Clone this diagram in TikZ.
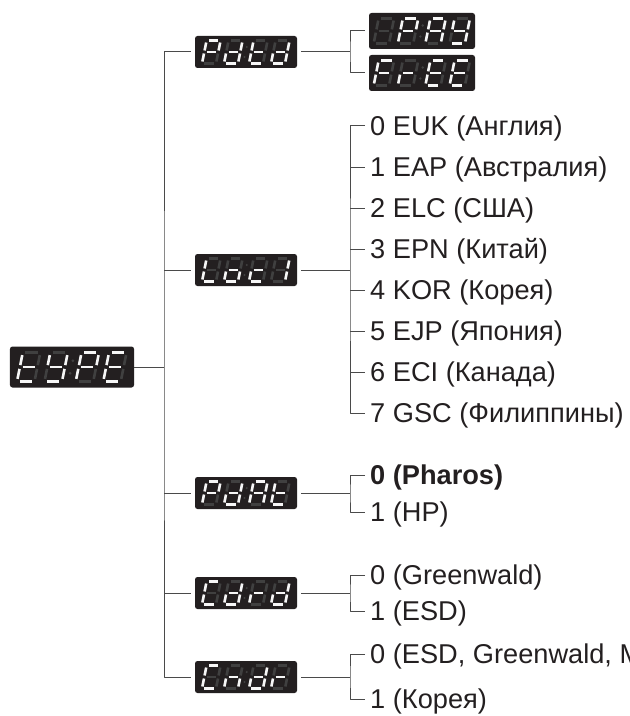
\documentclass[tikz,border=0pt]{standalone}
\usepackage{fontspec}
\setmainfont{Liberation Sans}

\definecolor{ink}{HTML}{231F20}
\definecolor{segdim}{HTML}{404040}
\definecolor{segon}{HTML}{F6F6F6}
\definecolor{wire}{HTML}{4A4A4A}

% lit segments of the display letters
\newcommand\sgt{d,e,f,g}
\newcommand\sgY{b,c,d,f,g}
\newcommand\sgP{a,b,e,f,g}
\newcommand\sgE{a,d,e,f,g}
\newcommand\sgd{b,c,d,e,g}
\newcommand\sgA{a,b,c,e,f,g}
\newcommand\sgF{a,e,f,g}
\newcommand\sgr{e,g}
\newcommand\sgL{d,e,f}
\newcommand\sgo{c,d,e,g}
\newcommand\sgc{d,e,g}
\newcommand\sgi{b,c}
\newcommand\sgC{a,d,e,f}
\newcommand\sgn{c,e,g}
\newcommand\sgoff{}

\makeatletter
% one slanted digit, #1 = bottom left corner, #2 = lit segments
\newcommand\lcdigit[2]{%
  \begin{scope}[shift={#1}, xslant=0.2]
    \foreach \s/\xa/\ya/\xb/\yb in {a/2.2/-23/11.8/-23, b/14/-21/14/-13, c/14/-10/14/-2, d/2.2/0/11.8/0, e/0/-10/0/-2, f/0/-21/0/-13, g/2.2/-11.5/11.8/-11.5}{%
      \edef\lctest{\noexpand\in@{,\s,}{,#2,}}\lctest
      \ifin@ \draw[seglit] (\xa,\ya) -- (\xb,\yb); \else \draw[segoff] (\xa,\ya) -- (\xb,\yb); \fi
    }
  \end{scope}}
\makeatother

% four digits inside display node #1, scaled by #2
\newcommand\lcd[6]{%
  \begin{scope}[shift={(#1.center)}, scale=#2]
    \lcdigit{(-44,11.5)}{#3}\lcdigit{(-22,11.5)}{#4}\lcdigit{(3,11.5)}{#5}\lcdigit{(25,11.5)}{#6}
    \fill[segdim] (-1.5,5) circle (1.2) (0.7,-5) circle (1.2);
  \end{scope}}

\begin{document}
\begin{tikzpicture}[x=1bp, y=-1bp, line join=round,
  every node/.style={font=\fontsize{27.3}{32}\selectfont, text=ink},
  lcdbox/.style={fill=ink, rounded corners=2.5bp, minimum width=102bp, minimum height=32bp, inner sep=0pt},
  wire/.style={draw=wire, line width=1bp},
  seglit/.style={draw=segon, line width=2.6bp},
  segoff/.style={draw=segdim, line width=2.6bp},
  item/.style={anchor=west, inner sep=0pt, text height=19.5bp, text depth=0pt}]

  \useasboundingbox (0,0) rectangle (630,716);

  % displays
  \node[lcdbox, minimum width=124bp, minimum height=41bp] (type) at (72,367) {};
  \node[lcdbox] (pdtd) at (246,52) {};
  \node[lcdbox, minimum width=106bp, minimum height=36bp] (pay) at (422,31) {};
  \node[lcdbox, minimum width=106bp, minimum height=36bp] (free) at (422,73) {};
  \node[lcdbox] (loc) at (246,270) {};
  \node[lcdbox] (pdat) at (246,493) {};
  \node[lcdbox] (cdrd) at (246,593) {};
  \node[lcdbox] (cndr) at (246,677) {};

  \lcd{type}{1.25}{\sgt}{\sgY}{\sgP}{\sgE}
  \lcd{pdtd}{1}{\sgP}{\sgd}{\sgt}{\sgd}
  \lcd{pay}{1.1}{\sgoff}{\sgP}{\sgA}{\sgY}
  \lcd{free}{1.1}{\sgF}{\sgr}{\sgE}{\sgE}
  \lcd{loc}{1}{\sgL}{\sgo}{\sgc}{\sgi}
  \lcd{pdat}{1}{\sgP}{\sgd}{\sgA}{\sgt}
  \lcd{cdrd}{1}{\sgC}{\sgd}{\sgr}{\sgd}
  \lcd{cndr}{1}{\sgC}{\sgn}{\sgd}{\sgr}

  % choices
  \node[item] (euk) at (370,126) {0 EUK (Англия)};
  \node[item] (eap) at (370,167) {1 EAP (Австралия)};
  \node[item] (elc) at (370,208) {2 ELC (США)};
  \node[item] (epn) at (370,249) {3 EPN (Китай)};
  \node[item] (kor) at (370,290) {4 KOR (Корея)};
  \node[item] (ejp) at (370,331) {5 EJP (Япония)};
  \node[item] (eci) at (370,372) {6 ECI (Канада)};
  \node[item] (gsc) at (370,413) {7 GSC (Филиппины)};
  \node[item, font=\fontsize{27.3}{32}\selectfont\bfseries] (pharos) at (370,475) {0 (Pharos)};
  \node[item] (hp) at (370,512) {1 (HP)};
  \node[item] (green) at (370,575) {0 (Greenwald)};
  \node[item] (esd) at (370,611) {1 (ESD)};
  \node[item] (esdgw) at (370,654) {0 (ESD, Greenwald, M};
  \node[item] (korea) at (370,699) {1 (Корея)};

  % trunk
  \coordinate (tk) at (164,367);
  \draw[wire] (type.east) -- (tk);
  \draw[wire] ([xshift=-4bp]pdtd.west) -| (tk) |- ([xshift=-4bp]cndr.west);
  \foreach \n in {loc,pdat,cdrd}
    \draw[wire] (tk |- \n.west) -- ([xshift=-4bp]\n.west);

  % brackets
  \coordinate (pdtdk) at (350,52);
  \coordinate (lock) at (350,270);
  \coordinate (pdatk) at (350,493);
  \coordinate (cdrdk) at (350,593);
  \coordinate (cndrk) at (350,677);

  \draw[wire] ([xshift=4bp]pdtd.east) -- (pdtdk);
  \draw[wire] ([xshift=-4bp]pay.west) -| (pdtdk) |- ([xshift=-4bp]free.west);

  \draw[wire] ([xshift=4bp]loc.east) -- (lock);
  \draw[wire] ([xshift=-5bp]euk.west) -| (lock) |- ([xshift=-5bp]gsc.west);
  \foreach \n in {eap,elc,epn,kor,ejp,eci}
    \draw[wire] (lock |- \n.west) -- ([xshift=-5bp]\n.west);

  \draw[wire] ([xshift=4bp]pdat.east) -- (pdatk);
  \draw[wire] ([xshift=-5bp]pharos.west) -| (pdatk) |- ([xshift=-5bp]hp.west);

  \draw[wire] ([xshift=4bp]cdrd.east) -- (cdrdk);
  \draw[wire] ([xshift=-5bp]green.west) -| (cdrdk) |- ([xshift=-5bp]esd.west);

  \draw[wire] ([xshift=4bp]cndr.east) -- (cndrk);
  \draw[wire] ([xshift=-5bp]esdgw.west) -| (cndrk) |- ([xshift=-5bp]korea.west);

\end{tikzpicture}
\end{document}
